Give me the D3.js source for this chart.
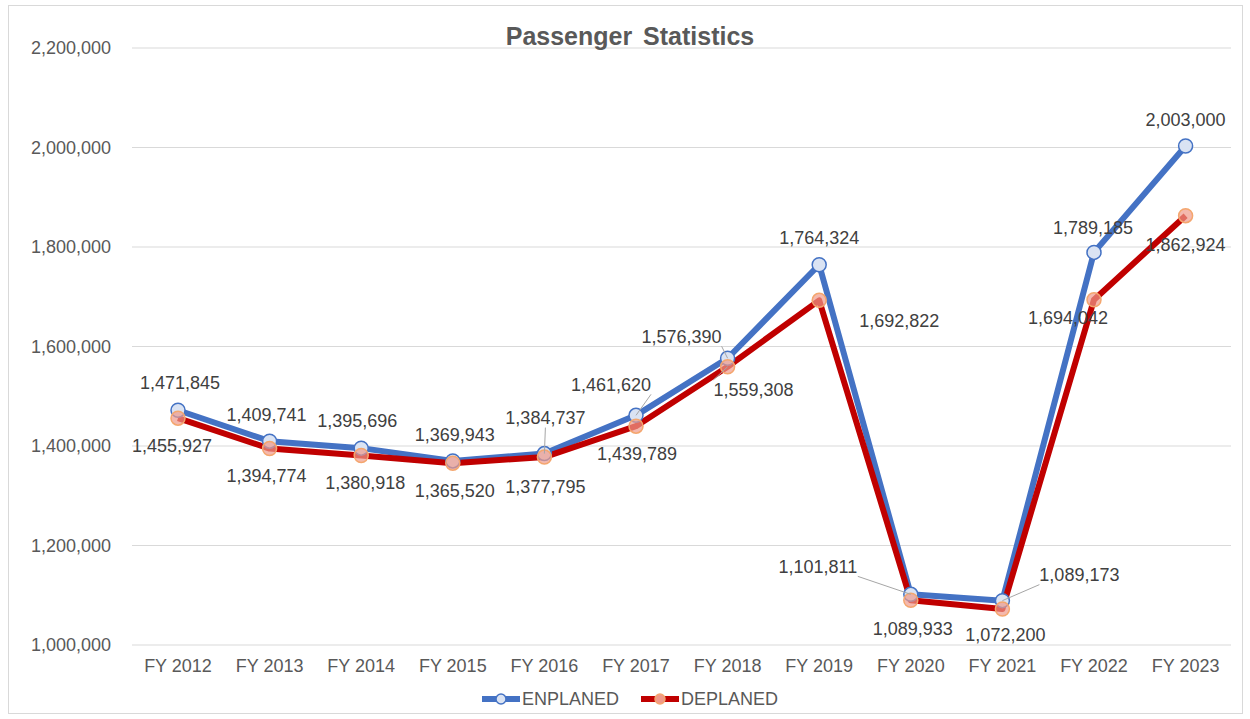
<!DOCTYPE html>
<html>
<head>
<meta charset="utf-8">
<script src="https://cdn.jsdelivr.net/npm/d3@7"></script>
<style>
  body { margin: 0; background: #fff; }
  text { font-family: "Liberation Sans", Arial, sans-serif; }
</style>
</head>
<body>
<svg id="chart" width="1250" height="719"></svg>
<script>
const years = ["FY 2012", "FY 2013", "FY 2014", "FY 2015", "FY 2016", "FY 2017",
               "FY 2018", "FY 2019", "FY 2020", "FY 2021", "FY 2022", "FY 2023"];
const enplaned = [1471845, 1409741, 1395696, 1369943, 1384737, 1461620,
                  1576390, 1764324, 1101811, 1089173, 1789185, 2003000];
const deplaned = [1455927, 1394774, 1380918, 1365520, 1377795, 1439789,
                  1559308, 1692822, 1089933, 1072200, 1694042, 1862924];
const yTicks = [1000000, 1200000, 1400000, 1600000, 1800000, 2000000, 2200000];

// label placement (offset from point, leader line when far)
const enOffsets = [[2,-28],[-3,-26],[-4,-27],[2,-26],[1,-36],[-25,-31],[-46,-22],[0,-27],[-93,-28],[77,-26],[-1,-25],[0,-26]];
const deOffsets = [[-6,28],[-3,27],[4,27],[2,28],[1,30],[1,27],[26,23],[80,20],[2,28],[3,26],[-26,18],[0,29]];
const enLeader = [false,false,false,false,true,true,true,false,true,true,false,false];
const deLeader = [false,false,false,false,false,false,true,false,false,false,false,false];

const svg = d3.select("#chart");
const fontSize = 18;

svg.append("rect")
    .attr("x", 8.5).attr("y", 5.5)
    .attr("width", 1234).attr("height", 708)
    .attr("fill", "#fff")
    .attr("stroke", "#d9d9d9");

const x = d3.scalePoint()
    .domain(years)
    .range([178, 1185.6]);

const y = d3.scaleLinear()
    .domain([1000000, 2200000])
    .range([645, 48]);

const gridLeft = 132, gridRight = 1231;

// gridlines
svg.append("g")
    .selectAll("line")
    .data(yTicks)
    .enter().append("line")
    .attr("x1", gridLeft).attr("x2", gridRight)
    .attr("y1", d => y(d)).attr("y2", d => y(d))
    .attr("stroke", "#d9d9d9")
    .attr("stroke-width", 1);

// y axis labels
const fmt = d3.format(",");
svg.append("g")
    .selectAll("text")
    .data(yTicks)
    .enter().append("text")
    .attr("x", 111)
    .attr("y", d => y(d))
    .attr("dy", "0.35em")
    .attr("text-anchor", "end")
    .attr("font-size", fontSize)
    .attr("fill", "#595959")
    .text(d => fmt(d));

// x axis labels
svg.append("g")
    .selectAll("text")
    .data(years)
    .enter().append("text")
    .attr("x", d => x(d))
    .attr("y", 666)
    .attr("dy", "0.35em")
    .attr("text-anchor", "middle")
    .attr("font-size", fontSize)
    .attr("fill", "#595959")
    .text(d => d);

// title
svg.append("text")
    .attr("x", 630)
    .attr("y", 36)
    .attr("dy", "0.35em")
    .attr("text-anchor", "middle")
    .attr("font-size", 25)
    .attr("font-weight", "bold")
    .attr("word-spacing", 4)
    .attr("fill", "#595959")
    .text("Passenger Statistics");

const series = [
    { name: "ENPLANED", values: enplaned, line: "#4472c4", mStroke: "#4472c4", mFill: "#dae3f3", offsets: enOffsets, leader: enLeader },
    { name: "DEPLANED", values: deplaned, line: "#c00000", mStroke: "#f4a66e", mFill: "#f09a8a", offsets: deOffsets, leader: deLeader }
];

const line = d3.line()
    .x((d, i) => x(years[i]))
    .y(d => y(d));

series.forEach(s => {
    svg.append("path")
        .datum(s.values)
        .attr("fill", "none")
        .attr("stroke", s.line)
        .attr("stroke-width", 6)
        .attr("stroke-linejoin", "round")
        .attr("d", line);
});

series.forEach(s => {
    svg.append("g")
        .selectAll("circle")
        .data(s.values)
        .enter().append("circle")
        .attr("cx", (d, i) => x(years[i]))
        .attr("cy", d => y(d))
        .attr("r", 7)
        .attr("fill", s.mFill)
        .attr("fill-opacity", s.name === "DEPLANED" ? 0.7 : 1)
        .attr("stroke", s.mStroke)
        .attr("stroke-width", 1.5);
});

// data labels
series.forEach(s => {
    const g = svg.append("g");
    s.values.forEach((v, i) => {
        const px = x(years[i]), py = y(v);
        const [dx, dy] = s.offsets[i];
        if (s.leader[i]) {
            const lx = px + dx + (dx > 20 ? -40 : dx < -20 ? 40 : 0);
            const ly = py + dy + (dy < 0 ? 10 : -10);
            g.append("line")
                .attr("x1", px).attr("y1", py)
                .attr("x2", lx).attr("y2", ly)
                .attr("stroke", "#a6a6a6")
                .attr("stroke-width", 1);
        }
        g.append("text")
            .attr("x", px + dx)
            .attr("y", py + dy)
            .attr("dy", "0.35em")
            .attr("text-anchor", "middle")
            .attr("font-size", fontSize)
            .attr("fill", "#404040")
            .text(fmt(v));
    });
});

// legend
const legend = svg.append("g");
const legendItems = [
    { s: series[0], x0: 482 },
    { s: series[1], x0: 641 }
];
legendItems.forEach(({ s, x0 }) => {
    legend.append("line")
        .attr("x1", x0).attr("x2", x0 + 38)
        .attr("y1", 699).attr("y2", 699)
        .attr("stroke", s.line)
        .attr("stroke-width", 6);
    legend.append("circle")
        .attr("cx", x0 + 19).attr("cy", 699).attr("r", 5)
        .attr("fill", s.mFill)
        .attr("stroke", s.mStroke)
        .attr("stroke-width", 1.5);
    legend.append("text")
        .attr("x", x0 + 40)
        .attr("y", 699)
        .attr("dy", "0.35em")
        .attr("font-size", fontSize)
        .attr("fill", "#595959")
        .text(s.name);
});
</script>
</body>
</html>
